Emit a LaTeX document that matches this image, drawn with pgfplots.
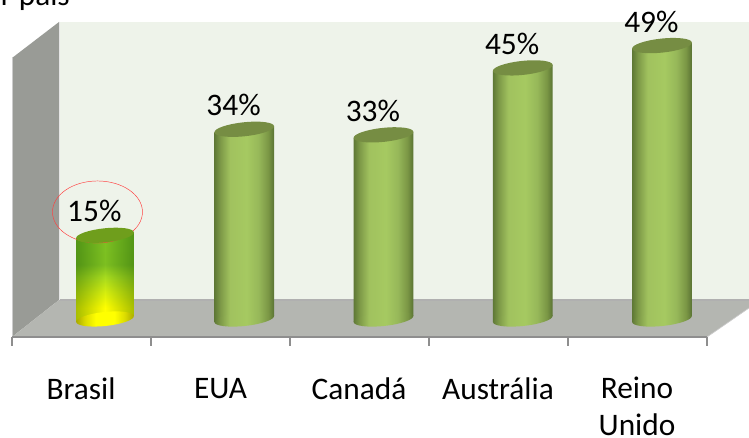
\documentclass[border=0pt]{standalone}
\usepackage{fontspec}
\setmainfont{Carlito}
\usepackage{pgfplots}
\pgfplotsset{compat=1.18}
\usetikzlibrary{shapes.geometric,fadings}

\definecolor{backwall}{HTML}{EEF3EA}
\definecolor{sidewall}{HTML}{999B96}
\definecolor{floorgray}{HTML}{B4B6B1}
\definecolor{edgegray}{HTML}{8E8E8E}
\definecolor{captop}{HTML}{768D43}
\definecolor{brasiltop}{HTML}{6F9E1C}

% side-lit cylinder body
\pgfdeclarehorizontalshading{cylbody}{100bp}{
  rgb(0bp)=(0.37,0.47,0.21);
  rgb(25bp)=(0.37,0.47,0.21);
  rgb(30bp)=(0.49,0.60,0.28);
  rgb(38bp)=(0.63,0.76,0.37);
  rgb(52bp)=(0.65,0.79,0.38);
  rgb(62bp)=(0.59,0.72,0.35);
  rgb(70bp)=(0.48,0.59,0.27);
  rgb(75bp)=(0.35,0.45,0.20);
  rgb(100bp)=(0.35,0.45,0.20)}
% yellow-to-green body of the highlighted bar
\pgfdeclareverticalshading{brasilbody}{100bp}{
  rgb(0bp)=(1,1,0);
  rgb(33bp)=(1,1,0);
  rgb(42bp)=(0.83,0.93,0.06);
  rgb(50bp)=(0.66,0.86,0.12);
  rgb(57bp)=(0.49,0.75,0.13);
  rgb(100bp)=(0.49,0.78,0.14)}
\pgfdeclarehorizontalshading{brasilbase}{100bp}{
  rgb(0bp)=(0.66,0.66,0);
  rgb(25bp)=(0.66,0.66,0);
  rgb(33bp)=(0.86,0.86,0);
  rgb(42bp)=(1,1,0);
  rgb(58bp)=(1,1,0);
  rgb(67bp)=(0.86,0.86,0);
  rgb(75bp)=(0.66,0.66,0);
  rgb(100bp)=(0.66,0.66,0)}
\tikzfading[name=cyledges,left color=transparent!66,right color=transparent!66,middle color=transparent!100]

\pgfplotsset{
  canvas/.style={hide axis,scale only axis,width=561.75pt,height=328.5pt,
    at={(0pt,0pt)},anchor=south west,clip=false},
  % a flat ellipse centred on each data point
  cap/.style={only marks,mark=none,nodes near coords={},
    every node near coord/.style={shape=ellipse,anchor=center,inner sep=0pt,
      minimum width=45pt,minimum height=10.5pt,rotate=6,draw=none,#1}},
  body/.style={draw=none,shading=cylbody}
}
\newcommand{\chartfont}{\fontsize{23.5}{28}\selectfont}

\begin{document}
\begin{tikzpicture}
\path[use as bounding box,clip] (0pt,0pt) rectangle (561.75pt,328.5pt);

% room: back wall, side wall, floor and the category axis, in image units
\begin{axis}[canvas,xmin=0,xmax=749,ymin=0,ymax=438,y dir=reverse]
  \addplot[fill=backwall,draw=none] coordinates {(59,22)(749,22)(749,300)(59,300)} --cycle;
  \addplot[fill=sidewall,draw=none] coordinates {(12,58)(59,22)(59,300)(12,337)} --cycle;
  \addplot[fill=floorgray,draw=none] coordinates {(12,337)(59,300)(749,300)(749,308)(707,337)} --cycle;
  \addplot[draw=edgegray!70,line width=0.9pt] coordinates {(59,300)(749,300)};
  \addplot[draw=white!80!gray,line width=0.5pt] coordinates {(59,22)(59,300)};
  \addplot[draw=white!60!gray,line width=0.5pt] coordinates {(12,58)(12,337)};
  \addplot[draw=white!60!gray,line width=0.5pt] coordinates {(707,337)(749,308)};
  \addplot[draw=edgegray,line width=1.1pt] coordinates {(12,337)(707,337)};
  \addplot[draw=edgegray,line width=1pt] coordinates {(12,337)(12,346)};
  \addplot[draw=edgegray,line width=1pt] coordinates {(151,337)(151,346)};
  \addplot[draw=edgegray,line width=1pt] coordinates {(290,337)(290,346)};
  \addplot[draw=edgegray,line width=1pt] coordinates {(429,337)(429,346)};
  \addplot[draw=edgegray,line width=1pt] coordinates {(568,337)(568,346)};
  \addplot[draw=edgegray,line width=1pt] coordinates {(707,337)(707,346)};
  \node[font=\chartfont,anchor=base east,inner sep=0pt] at (axis cs:70,6) {r país};
  \node[font=\chartfont,inner sep=0pt] at (axis cs:81,389) {Brasil};
  \node[font=\chartfont,inner sep=0pt] at (axis cs:220.5,389) {EUA};
  \node[font=\chartfont,inner sep=0pt] at (axis cs:359,389) {Canadá};
  \node[font=\chartfont,inner sep=0pt] at (axis cs:498,389) {Austrália};
  \node[font=\chartfont,inner sep=0pt] at (axis cs:637,388) {Reino};
  \node[font=\chartfont,inner sep=0pt] at (axis cs:637,425) {Unido};
\end{axis}

% the cylinders by category and percentage; each body is slanted by +-0.54
% about its value so that its corners meet the tilted end ellipses
\begin{axis}[canvas,xmin=-0.7540,xmax=4.6248,ymin=-21.33,ymax=57.17]
  \addplot[cap={shading=brasilbase,minimum width=43.5pt}] coordinates {(0,0)};
  \addplot[cap={shading=cylbody}] coordinates {(1,0)(2,0)(3,0)(4,0)};

  \addplot[draw=none,shading=brasilbody] coordinates {(-0.208,-0.54)(0.208,0.54)(0.208,15.54)(-0.208,14.46)} --cycle;
  \addplot[draw=none,fill=black!75!green,path fading=cyledges] coordinates {(-0.208,-0.54)(0.208,0.54)(0.208,15.54)(-0.208,14.46)} --cycle;
  \addplot[body] coordinates {(0.785,-0.54)(1.215,0.54)(1.215,34.54)(0.785,33.46)} --cycle;
  \addplot[body] coordinates {(1.785,-0.54)(2.215,0.54)(2.215,33.54)(1.785,32.46)} --cycle;
  \addplot[body] coordinates {(2.785,-0.54)(3.215,0.54)(3.215,45.54)(2.785,44.46)} --cycle;
  \addplot[body] coordinates {(3.785,-0.54)(4.215,0.54)(4.215,49.54)(3.785,48.46)} --cycle;

  \addplot[cap={fill=brasiltop,minimum width=43.5pt}] coordinates {(0,15)};
  \addplot[cap={fill=captop}] coordinates {(1,34)(2,33)(3,45)(4,49)};

  \addplot[only marks,mark=none,point meta=y,
    nodes near coords={\pgfmathprintnumber[assume math mode=true]{\pgfplotspointmeta}\%},
    every node near coord/.style={anchor=center,xshift=-8pt,yshift=18pt,
      font=\chartfont}]
    coordinates {(0,15)(1,34)(2,33)(3,45)(4,49)};

  \draw[red!75!white,line width=0.35pt] (axis cs:-0.054,19.18) ellipse [x radius=33.75pt,y radius=23.25pt];
\end{axis}
\end{tikzpicture}
\end{document}
